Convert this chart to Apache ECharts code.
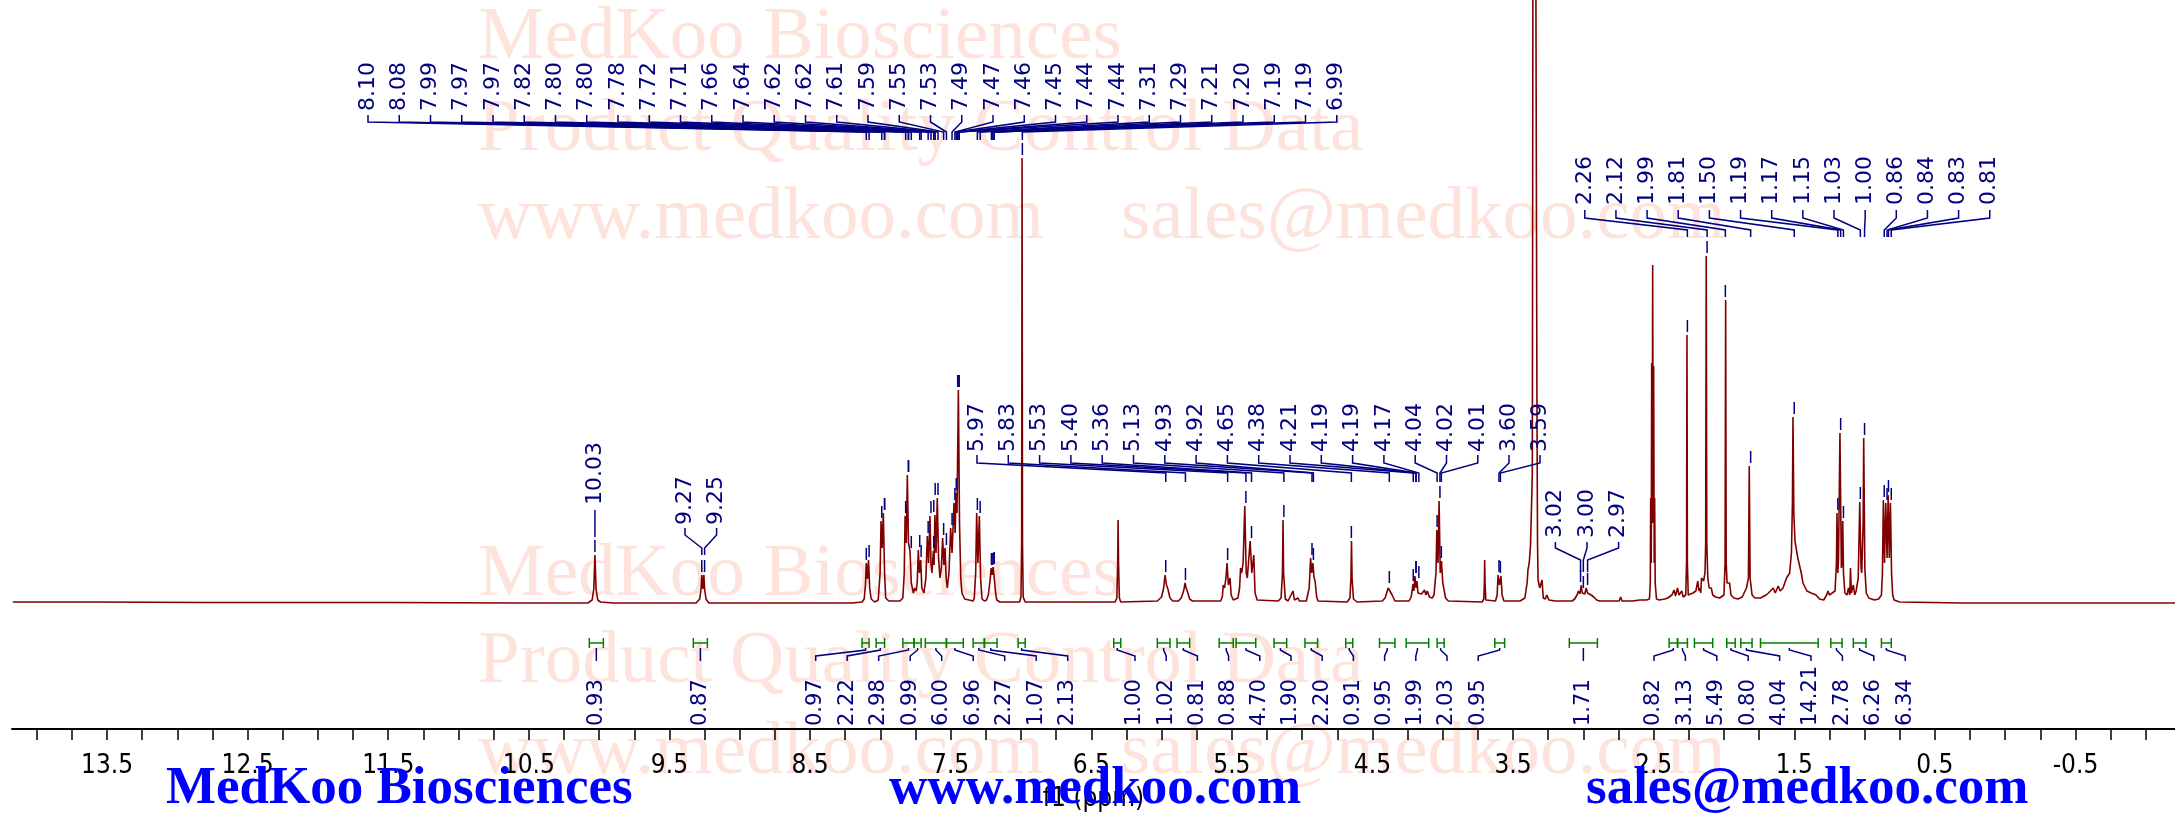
<!DOCTYPE html>
<html><head><meta charset="utf-8">
<script src="https://cdn.jsdelivr.net/npm/echarts@6/dist/echarts.min.js"></script>
<style>html,body{margin:0;padding:0;background:#fff}#c{width:2175px;height:823px}</style>
</head><body><div id="c"></div>
<script>
// ---------------- data ----------------
const xTickLabels = [13.5,12.5,11.5,10.5,9.5,8.5,7.5,6.5,5.5,4.5,3.5,2.5,1.5,0.5,-0.5];
const xTickValues = [14.0,13.75,13.5,13.25,13.0,12.75,12.5,12.25,12.0,11.75,11.5,11.25,11.0,10.75,10.5,10.25,10.0,9.75,9.5,9.25,9.0,8.75,8.5,8.25,8.0,7.75,7.5,7.25,7.0,6.75,6.5,6.25,6.0,5.75,5.5,5.25,5.0,4.75,4.5,4.25,4.0,3.75,3.5,3.25,3.0,2.75,2.5,2.25,2.0,1.75,1.5,1.25,1.0,0.75,0.5,0.25,0.0,-0.25,-0.5,-0.75,-1.0];

// spectrum: [ppm, intensity]
const spectrum = [
[14.17,1],[13.6,1],[12.8,0.5],[11.5,0.5],[10.6,0],[10.2,0],
[10.08,0],[10.05,3],[10.038,14],[10.03,48],[10.022,14],[10.01,3],[10.0,3],[9.99,1],[9.9,0],
[9.31,0],[9.285,4],[9.275,14],[9.27,28],[9.262,14],[9.255,28],[9.25,14],[9.24,4],[9.22,0],
[8.8,0],[8.49,0],[8.48,2],[8.47,0],[8.2,0],
[8.13,1],[8.115,4],[8.106,18],[8.10,40],[8.092,24],[8.084,43],[8.076,15],[8.065,4],[8.04,1],
[8.015,3],[8.002,30],[7.995,82],[7.987,55],[7.979,90],[7.97,30],[7.962,5],[7.94,2],[7.86,2],
[7.84,5],[7.83,30],[7.824,87],[7.816,60],[7.808,128],[7.800,60],[7.789,52],[7.78,20],[7.765,10],[7.755,15],[7.745,12],
[7.738,20],[7.730,53],[7.722,30],[7.713,43],[7.705,15],[7.69,10],
[7.676,25],[7.666,67],[7.657,40],[7.647,87],[7.640,40],[7.633,30],
[7.623,52],[7.618,38],[7.612,88],[7.604,50],[7.595,105],[7.586,45],[7.576,25],
[7.566,35],[7.557,65],[7.548,38],[7.540,55],[7.532,25],[7.524,15],
[7.512,30],[7.500,75],[7.490,50],[7.476,100],[7.468,70],[7.462,110],[7.455,90],[7.445,213],[7.437,80],[7.428,25],[7.42,10],[7.40,4],[7.387,3],
[7.34,2],[7.332,5],[7.322,30],[7.315,90],[7.306,40],[7.296,87],[7.287,25],[7.277,4],[7.26,2],
[7.245,3],[7.232,8],[7.22,22],[7.212,35],[7.205,28],[7.198,36],[7.19,25],[7.18,10],[7.172,3],[7.15,1],
[7.01,1],[7.0,6],[6.995,60],[6.992,445],[6.989,60],[6.984,6],[6.97,1],
[6.33,1],[6.318,5],[6.312,40],[6.309,83],[6.306,40],[6.30,5],[6.29,1],
[6.03,2],[6.0,6],[5.985,15],[5.975,28],[5.965,18],[5.955,14],[5.94,5],[5.92,2],
[5.88,2],[5.86,5],[5.848,10],[5.84,14],[5.833,20],[5.825,15],[5.815,11],[5.80,4],[5.78,2],
[5.58,2],[5.568,6],[5.561,18],[5.552,15],[5.542,25],[5.534,40],[5.525,18],[5.513,25],[5.505,8],[5.49,3],
[5.457,5],[5.445,15],[5.438,35],[5.43,30],[5.42,40],[5.408,97],[5.398,30],[5.39,25],[5.37,62],[5.358,30],[5.344,48],[5.335,10],[5.32,3],
[5.17,2],[5.15,5],[5.14,30],[5.136,83],[5.132,30],[5.12,4],[5.10,2],[5.065,12],[5.055,3],[5.03,5],[5.02,2],
[4.97,2],[4.96,4],[4.95,15],[4.94,45],[4.932,30],[4.924,40],[4.915,25],[4.908,22],[4.897,6],[4.887,2],
[4.68,1],[4.66,5],[4.653,25],[4.649,62],[4.645,25],[4.635,4],[4.61,1],
[4.43,2],[4.41,5],[4.395,12],[4.388,15],[4.382,17],[4.374,14],[4.36,8],[4.34,2],
[4.24,2],[4.225,6],[4.218,12],[4.212,19],[4.205,12],[4.198,27],[4.19,15],[4.184,22],[4.176,10],[4.165,8],[4.15,9],[4.13,13],[4.12,8],[4.11,12],[4.095,6],[4.075,5],
[4.062,8],[4.055,20],[4.048,30],[4.042,73],[4.034,40],[4.026,102],[4.018,30],[4.009,42],[4.0,20],[3.993,15],[3.98,5],[3.96,2],
[3.72,1],[3.708,4],[3.704,20],[3.702,43],[3.699,20],[3.694,3],[3.68,1],
[3.625,2],[3.613,8],[3.607,28],[3.597,18],[3.586,27],[3.578,8],[3.565,2],
[3.45,2],[3.416,5],[3.40,20],[3.394,33],[3.385,40],[3.376,57],[3.368,100],[3.363,130],[3.352,1400],[3.338,1400],[3.33,200],[3.326,60],[3.322,23],[3.31,15],[3.30,20],[3.294,23],[3.285,5],[3.27,4],[3.26,8],[3.254,10],[3.245,3],[3.2,2],
[3.08,2],[3.062,4],[3.045,8],[3.035,12],[3.025,9],[3.015,18],[3.008,10],[3.0,12],[2.99,9],[2.98,15],[2.97,10],[2.96,12],[2.945,8],[2.926,6],[2.905,3],[2.885,2],[2.80,2],[2.745,2],[2.735,6],[2.725,2],[2.65,2],[2.60,3],
[2.55,3],[2.53,4],[2.524,20],[2.521,105],[2.517,40],[2.514,240],[2.510,80],[2.507,338],[2.503,80],[2.50,237],[2.496,40],[2.493,105],[2.489,20],[2.48,4],[2.46,3],[2.42,4],
[2.40,5],[2.37,8],[2.355,13],[2.345,7],[2.33,15],[2.32,8],[2.30,12],[2.29,6],[2.28,6],
[2.272,8],[2.266,40],[2.263,268],[2.260,40],[2.254,8],[2.24,6],[2.22,10],[2.20,12],[2.186,22],[2.178,12],[2.17,15],[2.165,10],[2.16,25],[2.145,22],[2.135,30],
[2.13,60],[2.126,347],[2.122,60],[2.115,25],[2.105,15],[2.09,15],[2.08,8],[2.06,6],[2.03,5],
[2.0,8],[1.992,40],[1.988,303],[1.984,40],[1.978,20],[1.97,22],[1.96,20],[1.95,8],[1.93,5],[1.90,4],
[1.87,6],[1.84,15],[1.826,25],[1.82,137],[1.814,25],[1.80,8],[1.78,5],
[1.74,5],[1.70,8],[1.684,10],[1.67,8],[1.649,15],[1.635,10],[1.614,17],[1.60,12],[1.58,15],[1.555,25],[1.533,30],
[1.52,50],[1.513,100],[1.509,186],[1.503,90],[1.495,62],[1.485,60],[1.475,45],[1.461,43],[1.45,30],[1.438,20],[1.41,12],[1.38,10],[1.345,8],[1.32,4],[1.29,3],
[1.27,8],[1.26,12],[1.25,8],[1.21,12],[1.2,40],[1.196,90],[1.19,30],[1.185,45],[1.175,170],[1.165,35],[1.16,40],[1.155,82],[1.15,30],[1.14,10],
[1.125,8],[1.114,15],[1.105,8],[1.10,35],[1.094,10],[1.08,18],[1.07,8],[1.06,12],
[1.045,25],[1.034,101],[1.025,35],[1.02,30],[1.01,80],[1.006,165],[0.998,35],[0.988,10],[0.97,5],[0.93,3],[0.9,4],
[0.88,8],[0.873,30],[0.866,103],[0.858,40],[0.849,100],[0.84,45],[0.832,108],[0.824,45],[0.816,100],[0.808,30],[0.80,8],[0.79,3],[0.75,1],
[0.3,0],[-0.5,0],[-1.21,0]
];

// peak labels and their tip heights
const peakLabelsA = ['8.10','8.08','7.99','7.97','7.97','7.82','7.80','7.80','7.78','7.72','7.71','7.66','7.64','7.62','7.62','7.61','7.59','7.55','7.53','7.49','7.47','7.46','7.45','7.44','7.44','7.31','7.29','7.21','7.20','7.19','7.19','6.99'];
const peakTipsA   = [40,43,82,90,90,87,128,128,52,53,43,67,87,52,88,105,105,65,55,75,100,110,213,213,213,90,87,35,35,36,36,445];
const peakLabelsB = ['10.03'];
const peakTipsB   = [48];
const peakLabelsC = ['9.27','9.25'];
const peakTipsC   = [28,28];
const peakLabelsD = ['5.97','5.83','5.53','5.40','5.36','5.13','4.93','4.92','4.65','4.38','4.21','4.19','4.19','4.17','4.04','4.02','4.01'];
const peakTipsD   = [28,20,40,97,62,83,45,40,62,17,19,27,27,22,73,102,42];
const peakLabelsE = ['3.60','3.59'];
const peakTipsE   = [28,27];
const peakLabelsF = ['3.02','3.00','2.97'];
const peakTipsF   = [18,12,15];
const peakLabelsG = ['2.26','2.12','1.99','1.81','1.50','1.19','1.17','1.15','1.03','1.00','0.86','0.84','0.83','0.81'];
const peakTipsG   = [268,347,303,137,186,90,170,82,101,165,103,100,108,100];

// integrals
const integralFrom   = [10.07,9.33,8.13,8.03,7.84,7.76,7.68,7.53,7.34,7.26,7.02,6.34,6.03,5.89,5.59,5.47,5.20,4.98,4.69,4.45,4.26,4.04,3.63,3.10,2.39,2.33,2.21,1.98,1.88,1.74,1.24,1.08,0.88];
const integralTo     = [9.97,9.23,8.08,7.97,7.76,7.71,7.53,7.41,7.26,7.17,6.97,6.29,5.94,5.80,5.49,5.33,5.11,4.89,4.64,4.34,4.10,3.99,3.56,2.90,2.33,2.26,2.08,1.92,1.80,1.33,1.16,0.99,0.81];
const integralValues = ['0.93','0.87','0.97','2.22','2.98','0.99','6.00','6.96','2.27','1.07','2.13','1.00','1.02','0.81','0.88','4.70','1.90','2.20','0.91','0.95','1.99','2.03','0.95','1.71','0.82','3.13','5.49','0.80','4.04','14.21','2.78','6.26','6.34'];

// ---------------- layout ----------------
const NAVY = '#000080', GREEN = '#008000', RED = '#800000', WM = '#FDE3DB';
const peakGroups = [
  {labels: peakLabelsA, tips: peakTipsA, x0: 368,    step: 31.25, tb: 111, y0: 115, y1: 122, y2: 132, y3: 140},
  {labels: peakLabelsB, tips: peakTipsB, x0: null,   step: 0,     tb: 505, y0: 510, y1: 510, y2: 510, y3: 537},
  {labels: peakLabelsC, tips: peakTipsC, x0: 685,    step: 31.6,  tb: 525, y0: 528, y1: 535, y2: 548, y3: 555},
  {labels: peakLabelsD, tips: peakTipsD, x0: 977,    step: 31.3,  tb: 452, y0: 455, y1: 463, y2: 473, y3: 482},
  {labels: peakLabelsE, tips: peakTipsE, x0: 1509,   step: 31,    tb: 452, y0: 455, y1: 463, y2: 473, y3: 482},
  {labels: peakLabelsF, tips: peakTipsF, x0: 1555.4, step: 31.6,  tb: 538, y0: 542, y1: 548, y2: 560, y3: 572},
  {labels: peakLabelsG, tips: peakTipsG, x0: 1584.8, step: 31.15, tb: 205, y0: 210, y1: 218, y2: 230, y3: 237}
];
const peakItems = [];
peakGroups.forEach((g, gi) => g.labels.forEach((t, k) => peakItems.push([parseFloat(t), g.tips[k], gi, k])));

const intGroups = [
  {first: 0, count: 1, x0: null},
  {first: 1, count: 1, x0: null},
  {first: 2, count: 9, x0: 815.7, step: 31.5},
  {first: 11, count: 12, x0: 1135, step: 31.2},
  {first: 23, count: 1, x0: null},
  {first: 24, count: 9, x0: 1654, step: 31.4}
];
const intItems = integralFrom.map((f, i) => [f, integralTo[i], i]);
function intLabelX(i, cx) {
  for (const g of intGroups) {
    if (i >= g.first && i < g.first + g.count) return g.x0 == null ? cx : g.x0 + (i - g.first) * g.step;
  }
  return cx;
}
const INT_Y = 643;

const chart = echarts.init(document.getElementById('c'), null, {renderer: 'canvas', width: 2175, height: 823});

function wmText(txt, x, yBase) {
  return {type: 'text', x: x, y: yBase - 25, z: -10, silent: true,
    style: {text: txt, font: '75px "Liberation Serif", serif', fill: WM, verticalAlign: 'middle', align: 'left'}};
}
function blueText(txt, x) {
  return {type: 'text', x: x, y: 789, z: 100, silent: true,
    style: {text: txt, font: 'bold 53px "Liberation Serif", serif', fill: '#0000FF', verticalAlign: 'middle', align: 'left'}};
}

const option = {
  animation: false,
  backgroundColor: '#ffffff',
  grid: {left: 12, right: 0, top: 0, bottom: 94, containLabel: false},
  xAxis: {
    type: 'value', inverse: true, min: -1.208, max: 14.176,
    splitLine: {show: false},
    axisLine: {show: true, onZero: false, lineStyle: {color: '#000', width: 2}},
    axisTick: {show: true, customValues: xTickValues, length: 11, lineStyle: {color: '#000', width: 1.5}},
    minorTick: {show: false},
    axisLabel: {show: true, customValues: xTickLabels, margin: 24, color: '#000',
      fontSize: 26, fontFamily: '"DejaVu Sans Condensed", "Liberation Sans Narrow", "DejaVu Sans", sans-serif',
      formatter: v => Number(v).toFixed(1)},
    name: 'f1 (ppm)', nameLocation: 'middle', nameGap: 57,
    nameTextStyle: {color: '#000', fontSize: 26, fontFamily: '"DejaVu Sans Condensed", "DejaVu Sans", sans-serif'}
  },
  yAxis: {type: 'value', min: -126, max: 603, show: false},
  graphic: {elements: [
    wmText('MedKoo Biosciences', 478, 63),
    wmText('Product Quality Control Data', 478, 155),
    wmText('www.medkoo.com', 478, 243),
    wmText('sales@medkoo.com', 1121, 243),
    wmText('MedKoo Biosciences', 478, 600),
    wmText('Product Quality Control Data', 478, 687),
    wmText('www.medkoo.com', 478, 778),
    wmText('sales@medkoo.com', 1121, 778),
    blueText('MedKoo Biosciences', 166),
    blueText('www.medkoo.com', 889),
    blueText('sales@medkoo.com', 1586)
  ]},
  series: [
    {
      type: 'line', data: spectrum, symbol: 'none', sampling: null, clip: true, z: 3,
      lineStyle: {color: RED, width: 1.6}, silent: true
    },
    {
      type: 'custom', data: peakItems, clip: false, z: 4, silent: true,
      encode: {x: 0, y: 1},
      renderItem: function (params, api) {
        const ppm = api.value(0), tip = api.value(1), gi = api.value(2), k = api.value(3);
        const g = peakGroups[gi];
        const px = api.coord([ppm, 0])[0];
        const tipY = api.coord([ppm, tip])[1];
        const tx = g.x0 == null ? px : g.x0 + k * g.step;
        return {type: 'group', children: [
          {type: 'text', x: tx, y: g.tb, rotation: Math.PI / 2,
            style: {text: g.labels[k], fill: NAVY, font: '22px "DejaVu Sans", sans-serif', align: 'left', verticalAlign: 'middle'}},
          {type: 'polyline', shape: {points: [[tx, g.y0], [tx, g.y1], [px, g.y2], [px, g.y3]]},
            style: {stroke: NAVY, lineWidth: 1.5, fill: null}},
          {type: 'line', shape: {x1: px, y1: tipY - 3, x2: px, y2: tipY - 15},
            style: {stroke: NAVY, lineWidth: 1.5}}
        ]};
      }
    },
    {
      type: 'custom', data: intItems, clip: false, z: 4, silent: true,
      encode: {x: [0, 1]},
      renderItem: function (params, api) {
        const xa = api.coord([api.value(0), 0])[0];
        const xb = api.coord([api.value(1), 0])[0];
        const i = api.value(2);
        const cx = (xa + xb) / 2;
        const lx = intLabelX(i, cx);
        return {type: 'group', children: [
          {type: 'line', shape: {x1: xa, y1: INT_Y, x2: xb, y2: INT_Y}, style: {stroke: GREEN, lineWidth: 1.5}},
          {type: 'line', shape: {x1: xa, y1: INT_Y - 5, x2: xa, y2: INT_Y + 5}, style: {stroke: GREEN, lineWidth: 1.5}},
          {type: 'line', shape: {x1: xb, y1: INT_Y - 5, x2: xb, y2: INT_Y + 5}, style: {stroke: GREEN, lineWidth: 1.5}},
          {type: 'polyline', shape: {points: [[cx, INT_Y + 5], [cx, INT_Y + 7], [lx, INT_Y + 13], [lx, INT_Y + 18]]},
            style: {stroke: NAVY, lineWidth: 1.5, fill: null}},
          {type: 'text', x: lx, y: 726, rotation: Math.PI / 2,
            style: {text: integralValues[i], fill: NAVY, font: '21px "DejaVu Sans", sans-serif', align: 'left', verticalAlign: 'middle'}}
        ]};
      }
    }
  ]
};
chart.setOption(option);
</script>
</body></html>
